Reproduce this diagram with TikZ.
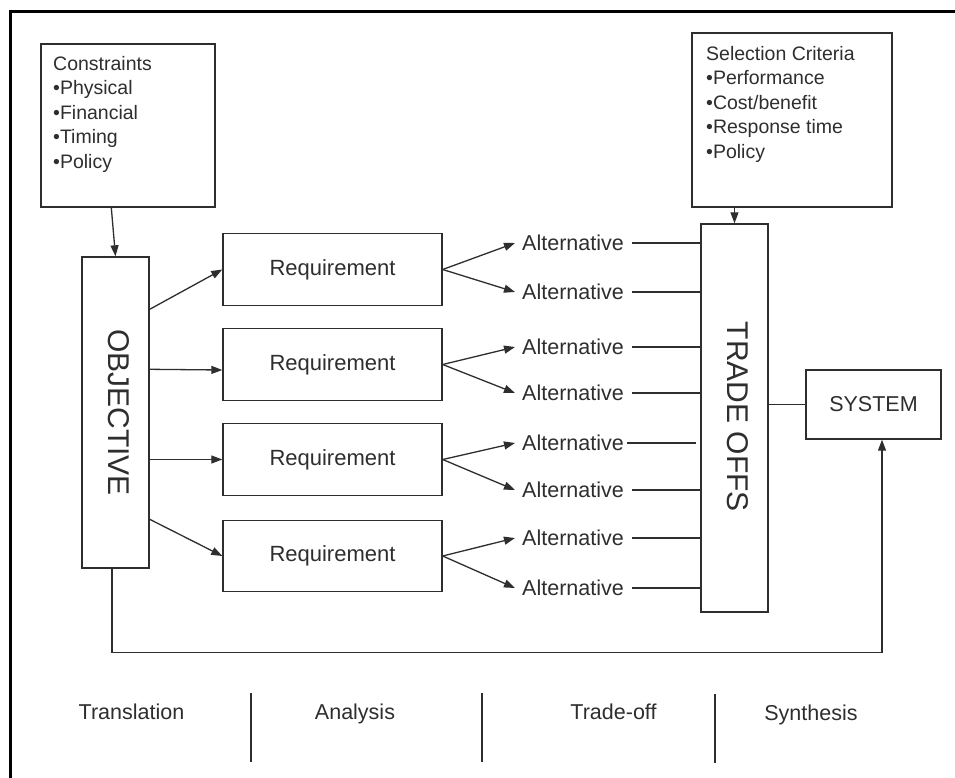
\documentclass[tikz,border=0pt]{standalone}
\usepackage{fontspec}
\setmainfont{Liberation Sans}
\usetikzlibrary{arrows.meta,calc}
\definecolor{ink}{HTML}{2E2E2E}
\begin{document}
\begin{tikzpicture}[x=1pt,y=-1pt,
  box/.style={draw=ink,line width=1.4pt,rectangle,inner sep=0pt},
  txt/.style={inner sep=0pt,text=ink},
  con/.style={draw=ink,line width=1.3pt},
  arr/.style={con,-{Triangle[length=11pt,width=8pt]}},
  f195/.style={font=\fontsize{19.5}{24.5}\selectfont},
  f21/.style={font=\fontsize{21.5}{26}\selectfont},
  f22/.style={font=\fontsize{22}{26}\selectfont},
  f30/.style={font=\fontsize{30}{34}\selectfont},
  reqbox/.style={box,minimum width=219pt,minimum height=71.5pt,f22,text=ink},
  alt/.style={txt,f21,anchor=west},
  phase/.style={txt,f21,anchor=base}]
\useasboundingbox (0,0) rectangle (955,778);
\clip (0,0) rectangle (955,778);
\fill[white] (0,0) rectangle (955,778);
\draw[line width=3.5pt,black] (10.5,11.5) rectangle (1000,800);

% constraints
\node[box,minimum width=174pt,minimum height=163pt] (cons) at (128,125.5) {};
\node[txt,f195,align=left,anchor=north west] (constxt) at (53,56)
  {Constraints\\•Physical\\•Financial\\•Timing\\•Policy};

% selection criteria
\node[box,minimum width=200pt,minimum height=174pt] (sel) at (792,120) {};
\node[txt,f195,align=left,anchor=north west] (seltxt) at (706,46)
  {Selection Criteria\\•Performance\\•Cost/benefit\\•Response time\\•Policy};

% objective
\node[box,minimum width=67pt,minimum height=311pt] (obj) at (115.5,412.5) {};
\node[txt,f30,rotate=-90] (objtxt) at (118.5,412.5) {OBJECTIVE};

% trade offs
\node[box,minimum width=67pt,minimum height=388pt] (trade) at (734.5,418) {};
\node[txt,f30,rotate=-90] (tradetxt) at (737.5,417) {TRADE OFFS};

% system
\node[box,minimum width=135pt,minimum height=69pt,f21,text=ink] (sys) at (873.5,404.5) {SYSTEM};

% requirements
\node[reqbox] (r1) at (332.5,269.5) {Requirement};
\node[reqbox] (r2) at (332.5,364.5) {Requirement};
\node[reqbox] (r3) at (332.5,459.5) {Requirement};
\node[reqbox] (r4) at (332.5,556) {Requirement};

% alternatives
\node[alt] (a1) at (522,243) {Alternative};
\node[alt] (a2) at (522,292) {Alternative};
\node[alt] (a3) at (522,347) {Alternative};
\node[alt] (a4) at (522,393) {Alternative};
\node[alt] (a5) at (522,443) {Alternative};
\node[alt] (a6) at (522,490) {Alternative};
\node[alt] (a7) at (522,538) {Alternative};
\node[alt] (a8) at (522,588) {Alternative};

% constraint / selection arrows
\draw[arr] ($(cons.south west)+(71,0)$) -- (obj.north);
\draw[arr] (sel.south -| trade.north) -- (trade.north);

% objective to requirements
\draw[arr] ($(obj.north east)+(0,53)$) -- (r1.west);
\draw[arr] ($(obj.north east)+(0,113)$) -- ($(r2.west)+(0,5.5)$);
\draw[arr] (obj.east |- r3.west) -- (r3.west);
\draw[arr] ($(obj.north east)+(0,263)$) -- (r4.west);

% requirements to alternatives
\foreach \r/\p/\q in {r1/a1/a2,r2/a3/a4,r3/a5/a6,r4/a7/a8}{
  \draw[arr] (\r.east) -- ($(\p.west)+(-7,0)$);
  \draw[arr] (\r.east) -- ($(\q.west)+(-7,0)$);
}

% alternatives to trade offs
\foreach \a in {a1,a2,a3,a4,a6,a7,a8}{
  \draw[con] ($(\a.east)+(8,0)$) -- (\a.east -| trade.west);
}
\draw[con] ($(a5.east)+(3,0)$) -- ($(a5.east -| trade.west)+(-4,0)$);

% trade offs to system
\draw[con] (trade.east |- sys.west) -- (sys.west);

% feedback
\coordinate (fb1) at ($(obj.south)+(-3.5,0)$);
\coordinate (fb2) at ($(sys.south)+(8.5,0)$);
\draw[arr] (fb1) -- ++(0,83.5) -| (fb2);

% phases
\node[phase] (ph1) at (131.5,719) {Translation};
\node[phase] (ph2) at (355,719) {Analysis};
\node[phase] (ph3) at (613.5,719) {Trade-off};
\node[phase] (ph4) at (811,720) {Synthesis};
\coordinate (d1t) at (251,693); \coordinate (d1b) at (251,762);
\coordinate (d2t) at (482,693); \coordinate (d2b) at (482,762);
\coordinate (d3t) at (715,694); \coordinate (d3b) at (715,763);
\draw[con] (d1t) -- (d1b);
\draw[con] (d2t) -- (d2b);
\draw[con] (d3t) -- (d3b);
\end{tikzpicture}
\end{document}
